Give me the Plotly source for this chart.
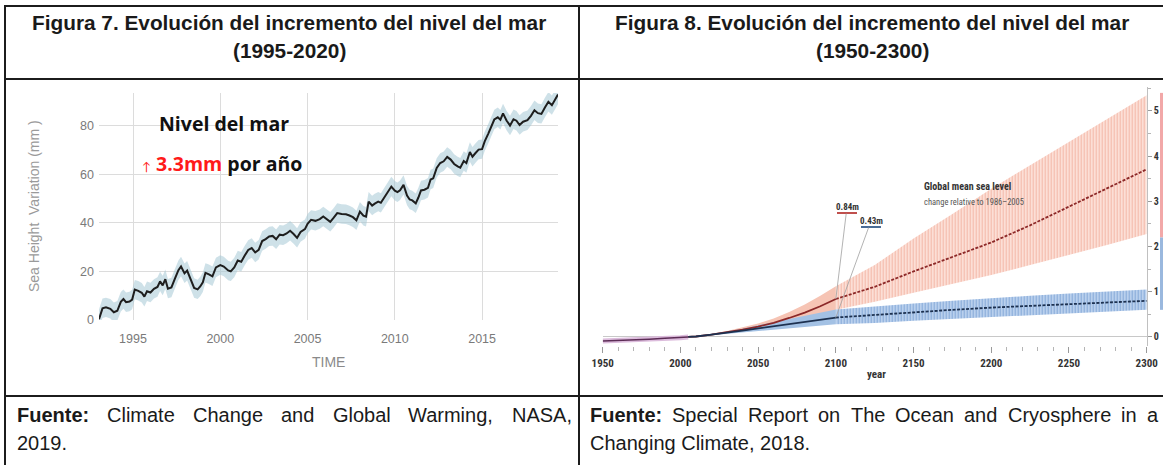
import plotly.graph_objects as go

# ---------------- DATA ----------------
# Figure 7: NASA satellite sea level (mm)
gmsl_years = [1993.05, 1993.25, 1993.45, 1993.7, 1993.9, 1994.1, 1994.3, 1994.45, 1994.6, 1994.8,
              1994.95, 1995.1, 1995.3, 1995.5, 1995.65, 1995.8, 1996.0, 1996.2, 1996.4, 1996.55,
              1996.7, 1996.85, 1997.0, 1997.2, 1997.4, 1997.6, 1997.75, 1997.95, 1998.1, 1998.3,
              1998.5, 1998.7, 1998.85, 1999.0, 1999.15, 1999.35, 1999.55, 1999.75, 2000.0, 2000.2,
              2000.45, 2000.6, 2000.8, 2001.0, 2001.2, 2001.4, 2001.6, 2001.8, 2002.0, 2002.2,
              2002.4, 2002.6, 2002.8, 2003.0, 2003.2, 2003.4, 2003.6, 2003.8, 2004.0, 2004.2,
              2004.4, 2004.6, 2004.85, 2005.0, 2005.2, 2005.45, 2005.7, 2005.9, 2006.1, 2006.3,
              2006.5, 2006.7, 2006.95, 2007.2, 2007.4, 2007.6, 2007.8, 2008.0, 2008.2, 2008.35,
              2008.5, 2008.7, 2008.85, 2009.05, 2009.2, 2009.4, 2009.6, 2009.8, 2010.0, 2010.15,
              2010.3, 2010.5, 2010.7, 2010.85, 2011.0, 2011.2, 2011.35, 2011.5, 2011.7, 2011.9,
              2012.05, 2012.2, 2012.4, 2012.6, 2012.8, 2013.0, 2013.2, 2013.4, 2013.6, 2013.75,
              2013.95, 2014.1, 2014.3, 2014.45, 2014.6, 2014.8, 2015.0, 2015.15, 2015.35, 2015.55,
              2015.7, 2015.9, 2016.05, 2016.2, 2016.4, 2016.6, 2016.8, 2016.97, 2017.15, 2017.35,
              2017.6, 2017.8, 2018.0, 2018.2, 2018.4, 2018.6, 2018.8, 2019.0, 2019.2, 2019.35]
gmsl_mm = [0.3, 4.8, 5.2, 4.6, 3.2, 3.8, 7.5, 8.6, 7.3, 7.6,
           8.4, 12.5, 12.0, 11.2, 9.6, 11.8, 11.3, 12.8, 13.6, 15.9,
           14.2, 16.8, 12.9, 13.4, 17.0, 20.5, 22.0, 19.2, 20.3, 16.5,
           13.2, 12.6, 13.8, 15.5, 19.4, 18.8, 18.0, 21.6, 22.6, 22.0,
           20.4, 20.0, 21.6, 24.5, 24.0, 26.5, 28.8, 29.6, 27.8, 28.9,
           32.5, 33.3, 34.4, 34.6, 33.2, 35.1, 34.9, 35.6, 36.7, 35.4,
           33.8, 36.2, 37.4, 39.6, 41.2, 40.8, 41.5, 42.6, 41.3, 40.4,
           42.1, 44.0, 43.6, 43.5, 43.0, 42.3, 41.0, 44.6, 42.9, 42.5,
           48.7, 47.1, 47.9, 48.7, 48.2, 50.3, 52.4, 54.9, 53.2, 52.6,
           53.4, 55.6, 51.2, 49.6, 49.2, 48.0, 50.4, 53.3, 53.6, 54.4,
           57.8, 58.3, 62.6, 64.6, 65.3, 67.1, 66.0, 64.2, 63.2, 62.7,
           65.4, 64.6, 69.1, 67.2, 68.5, 70.1, 70.3, 73.5, 76.6, 80.3,
           82.5, 83.4, 82.4, 85.0, 82.1, 80.0, 82.6, 82.0, 80.2, 81.6,
           82.2, 84.0, 86.3, 85.1, 84.8, 87.4, 89.8, 88.4, 90.8, 92.8]
gmsl_uncertainty_mm = 4.0
fig7_xticks = [1995, 2000, 2005, 2010, 2015]
fig7_yticks = [0, 20, 40, 60, 80]

# Figure 8: SROCC global mean sea level projections (m)
hist_years = [1950, 1960, 1970, 1980, 1990, 2000, 2005]
hist_m = [-0.09, -0.08, -0.065, -0.05, -0.03, -0.015, 0.0]
proj_years = [2005, 2010, 2020, 2030, 2040, 2050, 2060, 2070, 2080, 2090, 2100,
              2125, 2150, 2175, 2200, 2225, 2250, 2275, 2300]
rcp85_med = [0.0, 0.01, 0.05, 0.10, 0.16, 0.23, 0.31, 0.42, 0.54, 0.68, 0.84,
             1.11, 1.45, 1.77, 2.09, 2.47, 2.88, 3.29, 3.71]
rcp85_lo = [0.0, 0.005, 0.04, 0.08, 0.12, 0.17, 0.23, 0.30, 0.38, 0.48, 0.60,
            0.78, 0.98, 1.17, 1.37, 1.59, 1.81, 2.04, 2.28]
rcp85_hi = [0.0, 0.02, 0.07, 0.13, 0.21, 0.30, 0.41, 0.55, 0.72, 0.91, 1.12,
            1.59, 2.18, 2.72, 3.28, 3.80, 4.32, 4.83, 5.35]
rcp26_med = [0.0, 0.01, 0.05, 0.09, 0.14, 0.19, 0.24, 0.29, 0.34, 0.39, 0.43,
             0.49, 0.55, 0.60, 0.65, 0.69, 0.73, 0.77, 0.80]
rcp26_lo = [0.0, 0.005, 0.04, 0.07, 0.10, 0.13, 0.16, 0.19, 0.22, 0.25, 0.28,
            0.31, 0.36, 0.40, 0.44, 0.48, 0.52, 0.56, 0.60]
rcp26_hi = [0.0, 0.02, 0.07, 0.12, 0.18, 0.26, 0.33, 0.40, 0.47, 0.54, 0.61,
            0.68, 0.74, 0.80, 0.86, 0.91, 0.96, 1.01, 1.05]
hatch_from_year = 2100
label_year = 2100
fig8_xticks = [1950, 2000, 2050, 2100, 2150, 2200, 2250, 2300]
# cut-off 2300 range bars at the right edge of the source figure (m)
edge_bar_rcp85 = [2.2, 5.4]
edge_bar_rcp26 = [0.6, 2.2]

# Texts
title7 = ["Figura 7. Evolución del incremento del nivel del mar", "(1995-2020)"]
title8 = ["Figura 8. Evolución del incremento del nivel del mar", "(1950-2300)"]
source7 = ["Fuente:", "Climate", "Change", "and", "Global", "Warming,", "NASA,"]
source7_end = "2019."
source8 = ["Fuente:", "Special", "Report", "on", "The", "Ocean", "and", "Cryosphere", "in", "a"]
source8_end = "Changing Climate, 2018."

# ---------------- LAYOUT HELPERS ----------------
W, H = 1163, 465


def px(x):
    return x / W


def py(y):
    return 1 - y / H


HELV = {' ': 278, ',': 278, '.': 278, ':': 278, '-': 333,
        'A': 667, 'B': 667, 'C': 722, 'D': 722, 'E': 667, 'F': 611, 'G': 778, 'H': 722, 'I': 278,
        'J': 500, 'K': 667, 'L': 556, 'M': 833, 'N': 722, 'O': 778, 'P': 667, 'Q': 778, 'R': 722,
        'S': 667, 'T': 611, 'U': 722, 'V': 667, 'W': 944, 'X': 667, 'Y': 667, 'Z': 611,
        'a': 556, 'b': 556, 'c': 500, 'd': 556, 'e': 556, 'f': 278, 'g': 556, 'h': 556, 'i': 222,
        'j': 222, 'k': 500, 'l': 222, 'm': 833, 'n': 556, 'o': 556, 'p': 556, 'q': 556, 'r': 333,
        's': 500, 't': 278, 'u': 556, 'v': 500, 'w': 722, 'x': 500, 'y': 500, 'z': 500}
HELV_B = dict(HELV, **{'u': 611, 'n': 611, 't': 333, ':': 333, 'e': 556, 'F': 611})
for d in '0123456789':
    HELV[d] = 556


def tw(s, size, bold=False):
    tab = HELV_B if bold else HELV
    return sum(tab.get(c, 556) for c in s) * size / 1000.0


ARIAL = "Liberation Sans, Arial, sans-serif"
COND = "Liberation Sans Narrow, Roboto Condensed, DejaVu Sans Condensed, Roboto, sans-serif"

annotations = []
shapes = []


def add_text(text, x, y, size, color="#1a1a1a", family=ARIAL, xanchor="center", **kw):
    annotations.append(dict(text=text, x=px(x), y=py(y), xref="paper", yref="paper",
                            xanchor=xanchor, yanchor="middle", showarrow=False,
                            font=dict(size=size, color=color, family=family), **kw))


def add_justified(words, x0, x1, y, size):
    widths = [tw(w, size, bold=(i == 0)) for i, w in enumerate(words)]
    gap = (x1 - x0 - sum(widths)) / (len(words) - 1)
    x = x0
    for i, (w, wd) in enumerate(zip(words, widths)):
        t = "<b>%s</b>" % w if i == 0 else w
        add_text(t, x - 1, y, size, xanchor="left")
        x += wd + gap


def hline(x0, x1, y, w=2):
    shapes.append(dict(type="line", xref="paper", yref="paper", x0=px(x0), x1=px(x1),
                       y0=py(y), y1=py(y), line=dict(color="#1c1c1c", width=w)))


def vline(x, y0, y1, w=2):
    shapes.append(dict(type="line", xref="paper", yref="paper", x0=px(x), x1=px(x),
                       y0=py(y0), y1=py(y1), line=dict(color="#1c1c1c", width=w)))


# ---------------- FIGURE ----------------
fig = go.Figure()

# Figure 7 traces
fig.add_trace(go.Scatter(x=gmsl_years, y=[v - gmsl_uncertainty_mm for v in gmsl_mm],
                         mode="lines", line=dict(width=0), xaxis="x", yaxis="y", hoverinfo="skip"))
fig.add_trace(go.Scatter(x=gmsl_years, y=[v + gmsl_uncertainty_mm for v in gmsl_mm],
                         mode="lines", line=dict(width=0), fill="tonexty",
                         fillcolor="rgba(165,200,214,0.55)", xaxis="x", yaxis="y", hoverinfo="skip"))
fig.add_trace(go.Scatter(x=gmsl_years, y=gmsl_mm, mode="lines",
                         line=dict(color="#1e1e1e", width=2), xaxis="x", yaxis="y"))

# Figure 8 traces
i_h = proj_years.index(hatch_from_year)
seg_solid = slice(0, i_h + 1)
seg_hatch = slice(i_h, None)


def band(lo, hi, seg, color, hatch=None):
    fig.add_trace(go.Scatter(x=proj_years[seg], y=lo[seg], mode="lines", line=dict(width=0),
                             xaxis="x2", yaxis="y2", hoverinfo="skip"))
    kw = dict(fill="tonexty", fillcolor=color)
    if hatch:
        kw["fillpattern"] = dict(shape="|", size=3, solidity=0.35, fgcolor=hatch, bgcolor=color,
                                 fillmode="replace")
    fig.add_trace(go.Scatter(x=proj_years[seg], y=hi[seg], mode="lines", line=dict(width=0),
                             xaxis="x2", yaxis="y2", hoverinfo="skip", **kw))


band(rcp85_lo, rcp85_hi, seg_solid, "#f6c4b4")
band(rcp85_lo, rcp85_hi, seg_hatch, "#fcdfd6", hatch="#f3b8a9")
band(rcp26_lo, rcp26_hi, seg_solid, "#a3c1e4")
band(rcp26_lo, rcp26_hi, seg_hatch, "#b9d0ed", hatch="#86a9d8")

fig.add_trace(go.Scatter(x=hist_years, y=hist_m, mode="lines", line=dict(color="#dcbcdc", width=5),
                         xaxis="x2", yaxis="y2", hoverinfo="skip"))
fig.add_trace(go.Scatter(x=hist_years, y=hist_m, mode="lines", line=dict(color="#5c2c56", width=1.6),
                         xaxis="x2", yaxis="y2"))
for med, col in [(rcp85_med, "#8c2828"), (rcp26_med, "#1d3150")]:
    fig.add_trace(go.Scatter(x=proj_years[seg_solid], y=med[seg_solid], mode="lines",
                             line=dict(color=col, width=1.8), xaxis="x2", yaxis="y2"))
    fig.add_trace(go.Scatter(x=proj_years[seg_hatch], y=med[seg_hatch], mode="lines",
                             line=dict(color=col, width=1.8, dash="3px,1.5px"), xaxis="x2", yaxis="y2"))

# ---------------- TABLE + TEXT ----------------
hline(4, W, 6)
hline(4, W, 79)
hline(4, W, 396)
vline(5, 5, H)
vline(579, 5, H)

add_text("<b>%s</b>" % title7[0], 289, 22, 20.8)
add_text("<b>%s</b>" % title7[1], 289, 50, 20.8)
add_text("<b>%s</b>" % title8[0], 872, 22, 20.8)
add_text("<b>%s</b>" % title8[1], 872, 50, 20.8)

add_justified(source7, 16, 571, 415, 20)
add_text(source7_end, 15, 443, 20, xanchor="left")
add_justified(source8, 589, 1157, 415, 20)
add_text(source8_end, 588, 443, 20, xanchor="left")

# Figure 7 labels
add_text("Sea Height  Variation (mm )", 34, 206, 14, color="#9a9a9a", textangle=-90)
add_text("TIME", 328, 362, 14, color="#8a8a8a")
add_text("<b>Nivel del mar</b>", 224, 124, 19.5, color="#111111", family="Open Sans, Lato, sans-serif")
add_text("<span style='color:#ff1a1a'><span style='font-size:12px'>↑</span> <b>3.3mm</b></span>"
         " <b>por año</b>", 222, 163, 19.5, color="#111111", family="Open Sans, Lato, sans-serif")

# Figure 8 labels
add_text("<b>Global mean sea level</b>", 922, 187, 10, color="#333333", family=COND, xanchor="left")
add_text("change relative to 1986–2005", 922, 202, 8.5, color="#555555", family=COND, xanchor="left")
add_text("<b>year</b>", 876, 374, 11, color="#333333", family=COND)


def dx(x):
    return 1950 + (x - 602.7) / 1.5543


def dy(y):
    return (336.96 - y) / 45.2


iy = proj_years.index(label_year)
for val, lx, ly, col in [(rcp85_med[iy], 847, 207, "#c0504d"), (rcp26_med[iy], 871, 221, "#4a6c96")]:
    annotations.append(dict(text="<b>%.2fm</b>" % val, x=label_year, y=val, xref="x2", yref="y2",
                            ax=dx(lx), ay=dy(ly), axref="x2", ayref="y2", showarrow=True,
                            arrowhead=0, arrowwidth=0.8, arrowcolor="#a0a0a0", standoff=0,
                            font=dict(size=9, color="#333333", family=COND)))
    shapes.append(dict(type="line", xref="x2", yref="y2", x0=dx(lx - 10), x1=dx(lx + 10),
                       y0=dy(ly + 6), y1=dy(ly + 6), line=dict(color=col, width=2)))

for (b0, b1), col in [(edge_bar_rcp85, "#f2a8a8"), (edge_bar_rcp26, "#9ab8de")]:
    shapes.append(dict(type="rect", xref="paper", yref="y2", x0=px(1160), x1=1.0, y0=b0, y1=b1,
                       fillcolor=col, line=dict(width=0)))

grid = "#dcdcdc"
tick8 = dict(size=11, color="#333333", family=COND, weight="bold")
fig.update_layout(
    width=W, height=H, margin=dict(l=0, r=0, t=0, b=0, pad=0), autosize=False,
    paper_bgcolor="white", plot_bgcolor="white", showlegend=False,
    xaxis=dict(domain=[px(99), px(558)], range=[1993.05, 2019.35], anchor="y", automargin=False,
               tickvals=fig7_xticks, showgrid=True, gridcolor=grid, gridwidth=1, zeroline=False,
               showline=False, ticks="", ticklabelstandoff=9,
               tickfont=dict(size=12.5, color="#7a7a7a", family=ARIAL), fixedrange=True),
    yaxis=dict(domain=[py(320), py(93)], range=[0, 93.4], anchor="x", automargin=False,
               tickvals=fig7_yticks, showgrid=True, gridcolor=grid, gridwidth=1, zeroline=False,
               showline=False, ticks="", ticklabelstandoff=4,
               tickfont=dict(size=12.5, color="#7a7a7a", family=ARIAL), fixedrange=True),
    xaxis2=dict(domain=[px(602.7), px(1146.7)], range=[1950, 2300], anchor="y2", automargin=False,
                tickvals=fig8_xticks, showgrid=False, zeroline=False, showline=False,
                ticks="outside", ticklen=6, tickcolor="#9a9a9a", tickwidth=1,
                minor=dict(dtick=10, tick0=1950, ticks="outside", ticklen=4, tickcolor="#b5b5b5"),
                tickfont=tick8, ticklabelstandoff=1),
    yaxis2=dict(domain=[py(346), py(87)], range=[-0.2, 5.53], anchor="x2", side="right",
                automargin=False,
                dtick=1, showgrid=False, zeroline=True, zerolinecolor="#c8c8c8", zerolinewidth=1,
                showline=True, linecolor="#c0c0c0", linewidth=1,
                ticks="outside", ticklen=4, tickcolor="#9a9a9a",
                minor=dict(dtick=0.5, ticks="outside", ticklen=3, tickcolor="#b5b5b5"),
                tickfont=dict(size=10, color="#333333", family=COND, weight="bold")),
    annotations=annotations, shapes=shapes,
)

fig.write_html("out.html", config={"responsive": False, "displayModeBar": False},
               post_script="document.body.style.margin='0';")
